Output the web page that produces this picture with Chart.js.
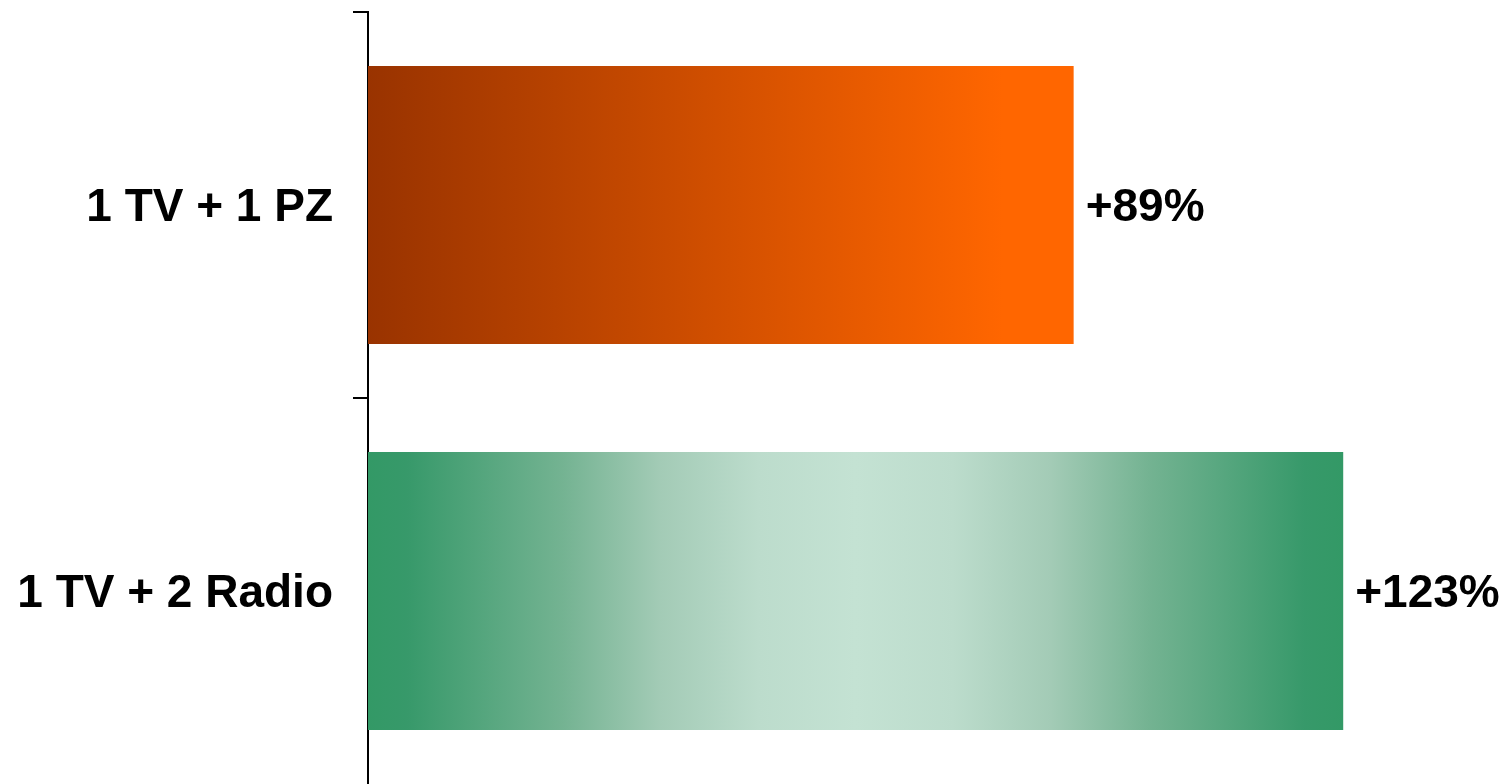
<!DOCTYPE html>
<html>
<head>
<meta charset="utf-8">
<script src="https://cdn.jsdelivr.net/npm/chart.js@4/dist/chart.umd.min.js"></script>
<style>
    html, body { margin: 0; padding: 0; background: #fff; }
    #wrap { width: 1510px; height: 784px; }
</style>
</head>
<body>
<div id="wrap"><canvas id="myChart"></canvas></div>
<script>
var categories = ['1 TV + 1 PZ', '1 TV + 2 Radio'];
var values = [89, 123];
var valueLabels = ['+89%', '+123%'];

var FONT = { family: '"Liberation Sans", Arial, sans-serif', size: 46, weight: 'bold' };

// gradient for each bar, spanning from the base to the bar end
function barFill(context) {
    var chart = context.chart;
    if (!chart.chartArea) return '#ff6600';
    var x = chart.scales.x;
    var x0 = x.getPixelForValue(0);
    var x1 = x.getPixelForValue(values[context.dataIndex]);
    var g = chart.ctx.createLinearGradient(x0, 0, x1, 0);
    if (context.dataIndex === 0) {
        g.addColorStop(0, '#993300');
        g.addColorStop(0.9, '#ff6600');
        g.addColorStop(1, '#ff6600');
    } else {
        g.addColorStop(0, '#339966');
        g.addColorStop(0.04, '#37996a');
        g.addColorStop(0.2, '#74b392');
        g.addColorStop(0.3, '#a3cbb6');
        g.addColorStop(0.4, '#bcdccc');
        g.addColorStop(0.5, '#c4e2d3');
        g.addColorStop(0.6, '#bcdccc');
        g.addColorStop(0.7, '#a3cbb6');
        g.addColorStop(0.8, '#74b392');
        g.addColorStop(0.96, '#37996a');
        g.addColorStop(1, '#339966');
    }
    return g;
}

// value text next to the end of every bar
var endLabels = {
    id: 'endLabels',
    afterDatasetsDraw: function (chart) {
        var ctx = chart.ctx;
        var meta = chart.getDatasetMeta(0);
        ctx.save();
        ctx.font = FONT.weight + ' ' + FONT.size + 'px ' + FONT.family;
        ctx.fillStyle = '#000';
        ctx.textAlign = 'left';
        ctx.textBaseline = 'middle';
        meta.data.forEach(function (bar, i) {
            ctx.fillText(valueLabels[i], bar.x + 12, bar.y + 3);
        });
        ctx.restore();
    }
};

var ctx = document.getElementById('myChart').getContext('2d');
var myChart = new Chart(ctx, {
    type: 'bar',
    data: {
        labels: categories,
        datasets: [{
            data: values,
            backgroundColor: barFill,
            borderWidth: 0,
            categoryPercentage: 1,
            barPercentage: 0.72
        }]
    },
    options: {
        indexAxis: 'y',
        responsive: true,
        maintainAspectRatio: false,
        animation: false,
        layout: { padding: { top: 12, right: 32, bottom: 0, left: 0 } },
        plugins: {
            legend: { display: false },
            tooltip: { enabled: false }
        },
        scales: {
            x: {
                display: false,
                min: 0,
                max: 140
            },
            y: {
                afterFit: function (scale) {
                    scale.width = 368;
                    scale.paddingTop = 0;
                    scale.paddingBottom = 0;
                },
                border: { display: true, color: '#000', width: 2 },
                grid: {
                    drawOnChartArea: false,
                    drawTicks: true,
                    tickLength: 15,
                    // no mark on the closing boundary at the bottom
                    color: function (c) { return c.type === 'tick' ? '#000' : 'rgba(0,0,0,0)'; },
                    lineWidth: 2
                },
                ticks: {
                    color: '#000',
                    font: FONT,
                    padding: 20,
                    labelOffset: 3
                }
            }
        }
    },
    plugins: [endLabels]
});
</script>
</body>
</html>
